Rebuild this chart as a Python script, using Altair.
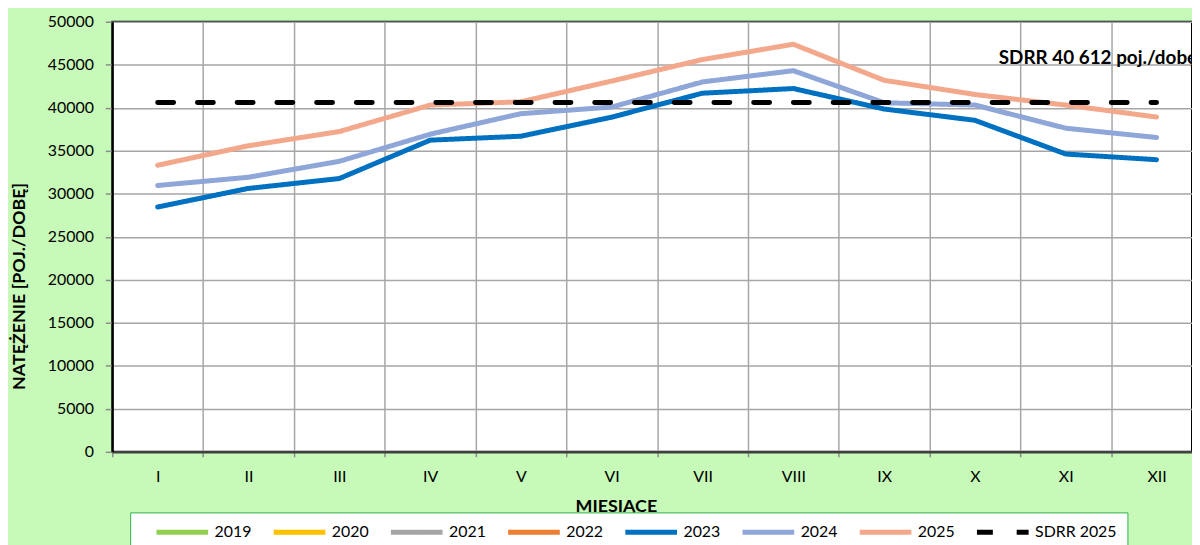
import altair as alt
import pandas as pd

months = ["I", "II", "III", "IV", "V", "VI", "VII", "VIII", "IX", "X", "XI", "XII"]
series = ["2019", "2020", "2021", "2022", "2023", "2024", "2025", "SDRR 2025"]
colors = ["#92D050", "#FFC000", "#A5A5A5", "#ED7D31", "#0070C0", "#8FA6D9", "#F3A88B", "#000000"]

v2023 = [28460, 30620, 31770, 36230, 36690, 38900, 41690, 42230, 39850, 38540, 34620, 33960]
v2024 = [30960, 31920, 33770, 36920, 39310, 40080, 43000, 44310, 40580, 40310, 37620, 36540]
v2025 = [33310, 35580, 37230, 40310, 40690, 43100, 45600, 47380, 43190, 41540, 40310, 38920]
sdrr_value = 40612
sdrr_label = "SDRR 40 612 poj./dobę"
y_ticks = list(range(0, 50001, 5000))

rows = []
for name, vals in [("2023", v2023), ("2024", v2024), ("2025", v2025)]:
    for m, v in zip(months, vals):
        rows.append({"month": m, "value": v, "series": name})
for m in months:
    rows.append({"month": m, "value": sdrr_value, "series": "SDRR 2025"})
df = pd.DataFrame(rows)

FONT = "Lato"

legend = alt.Legend(
    title=" ", titleOrient="left", titlePadding=14, titleFontSize=1,
    orient="none", legendX=18, legendY=494, direction="horizontal",
    columns=8, symbolType="stroke", symbolSize=2704, symbolStrokeWidth=5,
    labelFontSize=16, labelFont=FONT, labelColor="black", labelOffset=4,
    columnPadding=19, padding=10, clipHeight=20,
    fillColor="white", strokeColor="#2EB24C",
)

x_enc = alt.X(
    "month:O", sort=months, bandPosition=0.5,
    scale=alt.Scale(type="band", domain=months, range=[0, 1097], paddingInner=0, paddingOuter=0),
    axis=alt.Axis(
        title="MIESIĄCE", titleX=507, titleY=55, titleBaseline="middle", titleFontSize=18,
        titleFontWeight="bold", titleFont=FONT, titleColor="black",
        labelAngle=0, labelFontSize=16, labelFont=FONT, labelColor="black", labelPadding=12,
        tickSize=5, tickColor="#8C8C8C", tickWidth=1.5, tickBand="extent",
        domainColor="#404040", domainWidth=2.5,
        grid=True, gridColor="#A6A6A6", gridWidth=1.5,
    ),
)
y_scale = alt.Scale(domain=[0, 50000], nice=False)
y_enc = alt.Y(
    "value:Q", scale=y_scale,
    axis=alt.Axis(
        title="NATĘŻENIE [POJ./DOBĘ]", titleX=-93, titleY=266, titleBaseline="middle",
        titleAlign="center", titleAngle=270, titleFontSize=18, titleFontWeight="bold",
        titleFont=FONT, titleColor="black",
        values=y_ticks, format="d", labelFontSize=16, labelFont=FONT, labelColor="black",
        labelPadding=12, tickSize=7, tickColor="#8C8C8C", tickWidth=1.5,
        domainColor="#000000", domainWidth=2,
        grid=True, gridColor="#A6A6A6", gridWidth=1.5,
    ),
)

lines = alt.Chart(df).mark_line(strokeWidth=5, strokeCap="round", strokeJoin="round").encode(
    x=x_enc,
    y=y_enc,
    color=alt.Color("series:N", scale=alt.Scale(domain=series, range=colors), legend=legend),
    strokeDash=alt.StrokeDash(
        "series:N",
        scale=alt.Scale(domain=series, range=[[1, 0]] * 7 + [[16, 24]]),
        legend=legend,
    ),
    detail="series:N",
)

label = alt.Chart(pd.DataFrame({"t": [sdrr_label]})).mark_text(
    align="left", baseline="middle", fontSize=19, fontWeight="bold", font=FONT,
    color="black", dx=24, dy=-45,
).encode(
    x=alt.X(datum="X"),
    y=alt.Y(datum=sdrr_value),
    text="t:N",
)

chart = alt.layer(lines, label).properties(
    width=1087, height=433,
    autosize=alt.AutoSizeParams(type="none"),
    padding={"left": 105, "top": 12, "right": 0, "bottom": 92},
    background="#C7F9B8",
).configure(font=FONT).configure_view(
    fill="white", stroke="#000000", strokeWidth=2,
)

chart.save("out.html", embed_options={"renderer": "svg", "actions": False})
